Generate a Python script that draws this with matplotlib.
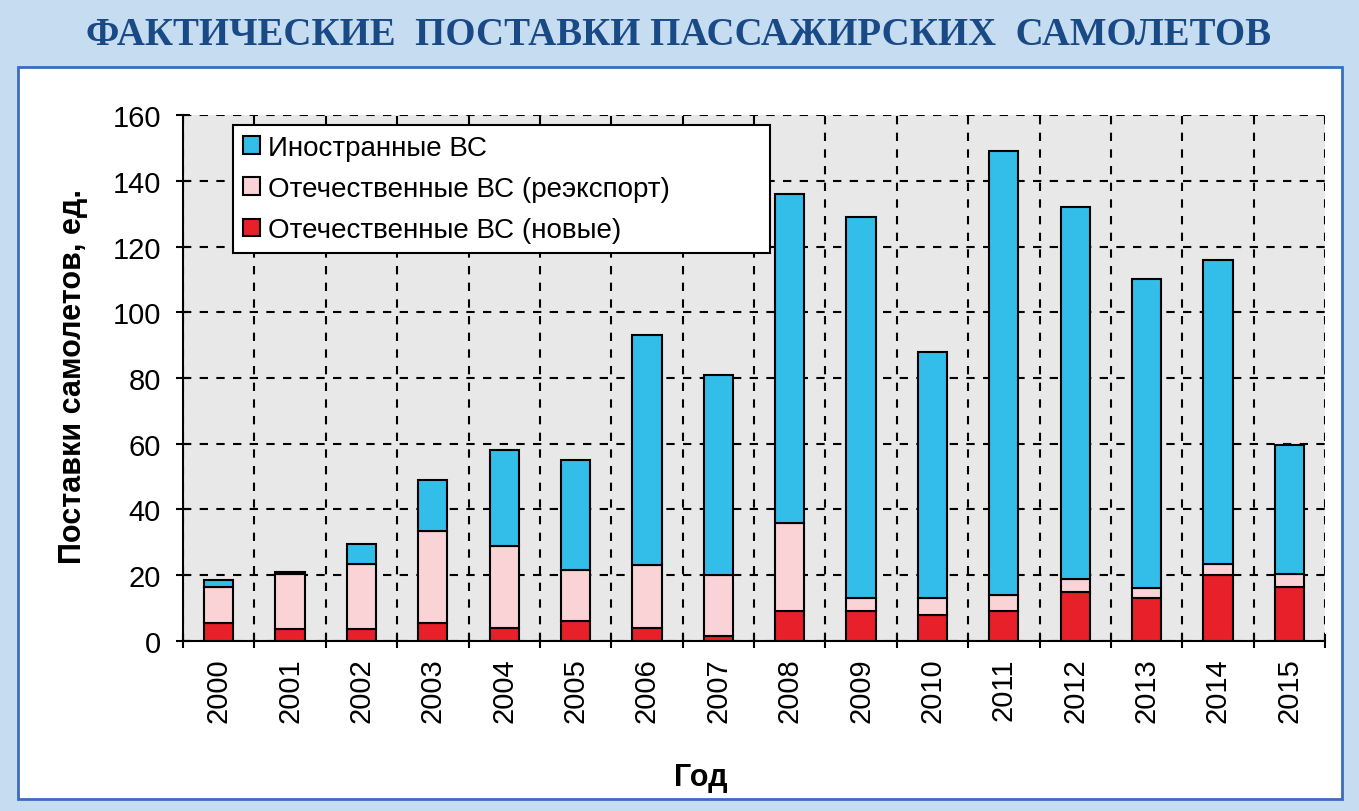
# Фактические поставки пассажирских самолетов, 2000-2015

import numpy as np
import matplotlib.pyplot as plt
from matplotlib.patches import Rectangle

years = ['2000', '2001', '2002', '2003', '2004', '2005', '2006', '2007',
         '2008', '2009', '2010', '2011', '2012', '2013', '2014', '2015']
new_domestic = [5.5, 3.5, 3.5, 5.5, 4, 6, 4, 1.5, 9, 9, 8, 9, 15, 13, 20, 16.5]
reexport = [11, 17, 20, 28, 25, 15.5, 19, 18.5, 27, 4, 5, 5, 4, 3, 3.5, 4]
foreign = [2, 0.5, 6, 15.5, 29, 33.5, 70, 61, 100, 116, 75, 135, 113, 94, 92.5, 39]

labels = ['Иностранные ВС', 'Отечественные ВС (реэкспорт)', 'Отечественные ВС (новые)']
title = 'ФАКТИЧЕСКИЕ  ПОСТАВКИ ПАССАЖИРСКИХ  САМОЛЕТОВ'

plt.rcParams['font.family'] = ['Liberation Sans', 'DejaVu Sans']

fig = plt.figure(figsize=(13.59, 8.12), dpi=100)
fig.patch.set_facecolor('#c6ddf1')

# white panel behind the chart
panel = Rectangle((0.013, 0.015), 0.9745, 0.901, transform=fig.transFigure,
                  facecolor='white', edgecolor='#3b6cc0', linewidth=2, zorder=-10)
fig.patches.append(panel)

fig.text(0.499, 0.956, title, ha='center', va='center', fontsize=28,
         fontweight='bold', family='Liberation Serif', color='#1a4a86')

ax = fig.add_axes([0.1347, 0.2094, 0.8403, 0.6477])
ax.set_facecolor('#e8e8e8')

x = np.arange(len(years))
w = 0.41
red = np.array(new_domestic)
pink = np.array(reexport)
blue = np.array(foreign)

b1 = ax.bar(x, red, w, color='#e8202a', edgecolor='black', linewidth=1.5, zorder=3)
b2 = ax.bar(x, pink, w, bottom=red, color='#f9d3d6', edgecolor='black', linewidth=1.5, zorder=3)
b3 = ax.bar(x, blue, w, bottom=red + pink, color='#33bde9', edgecolor='black', linewidth=1.5, zorder=3)

ax.set_xlim(-0.5, len(years) - 0.5)
ax.set_ylim(0, 160)
ax.set_yticks(np.arange(0, 161, 20))
ax.set_xticks(x)
ax.set_xticklabels(years, rotation=90, fontsize=21)
ax.set_xticks(np.arange(-0.5, len(years)), minor=True)
ax.tick_params(axis='x', which='major', length=0, pad=12)
ax.tick_params(axis='x', which='minor', length=10, width=1.5, direction='inout')
ax.tick_params(axis='y', length=10, width=1.5, direction='inout', labelsize=21, pad=11)

ax.grid(axis='y', which='major', color='black', linestyle=(0, (4, 4)), linewidth=1.5, zorder=1)
ax.grid(axis='x', which='minor', color='black', linestyle=(0, (4, 4)), linewidth=1.5, zorder=1)

for s in ['top', 'right']:
    ax.spines[s].set_visible(False)
for s in ['left', 'bottom']:
    ax.spines[s].set_linewidth(1.5)

ax.set_ylabel('Поставки самолетов, ед.', fontsize=22, fontweight='bold')
ax.yaxis.set_label_coords(-0.083, 0.504)
ax.set_xlabel('Год', fontsize=22, fontweight='bold')
ax.xaxis.set_label_coords(0.453, -0.23)

leg = ax.legend([b3, b2, b1], labels, loc='upper left',
                bbox_to_anchor=(0.044, 0.981, 0.470, 0.0), mode='expand',
                fontsize=20, frameon=True, fancybox=False, edgecolor='black',
                handlelength=0.6, handleheight=0.6, handletextpad=0.3,
                labelspacing=0.55, borderpad=0.35, borderaxespad=0)
leg.get_frame().set_linewidth(1.5)
leg.get_frame().set_facecolor('white')
leg.get_frame().set_alpha(1)
leg.set_zorder(5)

fig.savefig('out.png', dpi=100, facecolor=fig.get_facecolor())
